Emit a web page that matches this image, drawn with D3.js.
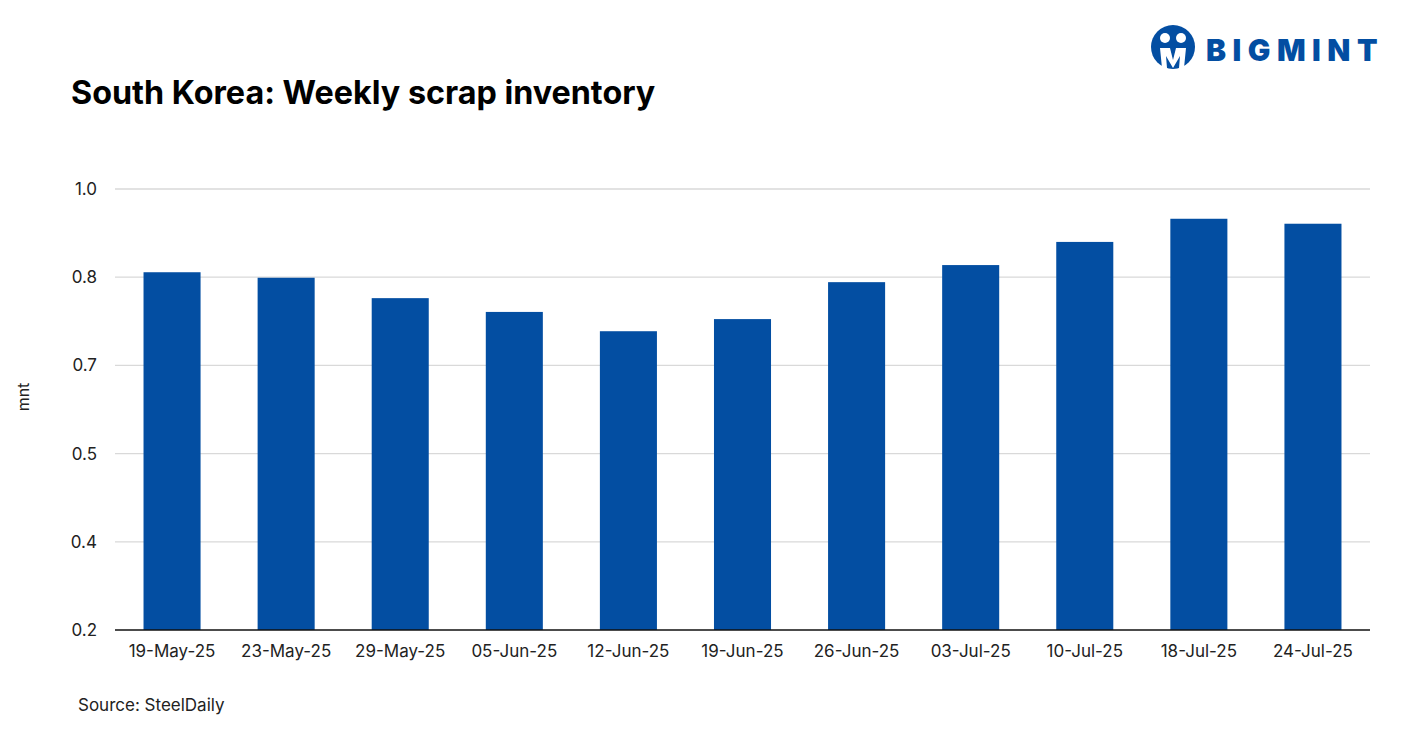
<!DOCTYPE html>
<html><head><meta charset="utf-8">
<script src="https://cdn.jsdelivr.net/npm/d3@7"></script>
<style>body{margin:0;background:#fff;font-family:Inter,"Liberation Sans",Arial,sans-serif}</style>
</head><body><svg id="c" width="1418" height="744"></svg>
<script>
const categories=["19-May-25","23-May-25","29-May-25","05-Jun-25","12-Jun-25","19-Jun-25","26-Jun-25","03-Jul-25","10-Jul-25","18-Jul-25","24-Jul-25"];
const values=[0.849,0.839,0.802,0.777,0.742,0.764,0.831,0.862,0.904,0.946,0.937];
const tickValues=[0.2,0.36,0.52,0.68,0.84,1.0];
const svg=d3.select("#c");
const L=115,R=1370,T=189,B=630;
const x=d3.scaleBand().domain(categories).range([L,R]).paddingInner(0.5).paddingOuter(0.25);
const y=d3.scaleLinear().domain([0.2,1.0]).range([B,T]);
svg.append("g").selectAll("line").data(tickValues.slice(1)).join("line")
 .attr("x1",L).attr("x2",R).attr("y1",d=>y(d)).attr("y2",d=>y(d)).attr("stroke","#d9d9d9").attr("stroke-width",1.3);
svg.append("g").selectAll("text").data(tickValues).join("text")
 .attr("x",97).attr("y",d=>y(d)+6).attr("text-anchor","end").attr("font-size",17).attr("fill","#222").text(d=>d3.format(".1f")(d));
svg.append("g").selectAll("rect").data(values).join("rect")
 .attr("x",(d,i)=>x(categories[i])).attr("width",x.bandwidth()).attr("y",d=>y(d)).attr("height",d=>B-y(d)).attr("fill","#034ea2");
svg.append("line").attr("x1",L).attr("x2",R).attr("y1",B).attr("y2",B).attr("stroke","#111").attr("stroke-width",1.5);
svg.append("g").selectAll("text").data(categories).join("text")
 .attr("x",d=>x(d)+x.bandwidth()/2).attr("y",657).attr("text-anchor","middle").attr("font-size",17).attr("fill","#222").text(d=>d);
svg.append("text").attr("transform","translate(29,397) rotate(-90)").attr("text-anchor","middle").attr("font-size",16).attr("fill","#222").text("mnt");
svg.append("text").attr("x",71).attr("y",104).attr("font-size",32.3).attr("font-weight","bold").attr("fill","#000").text("South Korea: Weekly scrap inventory");
svg.append("text").attr("x",78).attr("y",711).attr("font-size",17).attr("fill","#222").text("Source: SteelDaily");
const lg=svg.append("g");
lg.append("circle").attr("cx",1173).attr("cy",47).attr("r",22).attr("fill","#034ea2");
lg.append("circle").attr("cx",1165).attr("cy",38).attr("r",5).attr("fill","#fff");
lg.append("circle").attr("cx",1181).attr("cy",38).attr("r",5).attr("fill","#fff");
lg.append("path").attr("d","M1160,48 L1170,48 L1173,60 L1176,48 L1186,48 L1184,68 L1179,68 L1180,56 L1173,68 L1166,56 L1167,68 L1162,68 Z").attr("fill","#fff");
lg.append("text").attr("x",1206).attr("y",61).attr("font-size",30).attr("font-weight","900").attr("letter-spacing",6.5).attr("fill","#034ea2").text("BIGMINT");
</script></body></html>
